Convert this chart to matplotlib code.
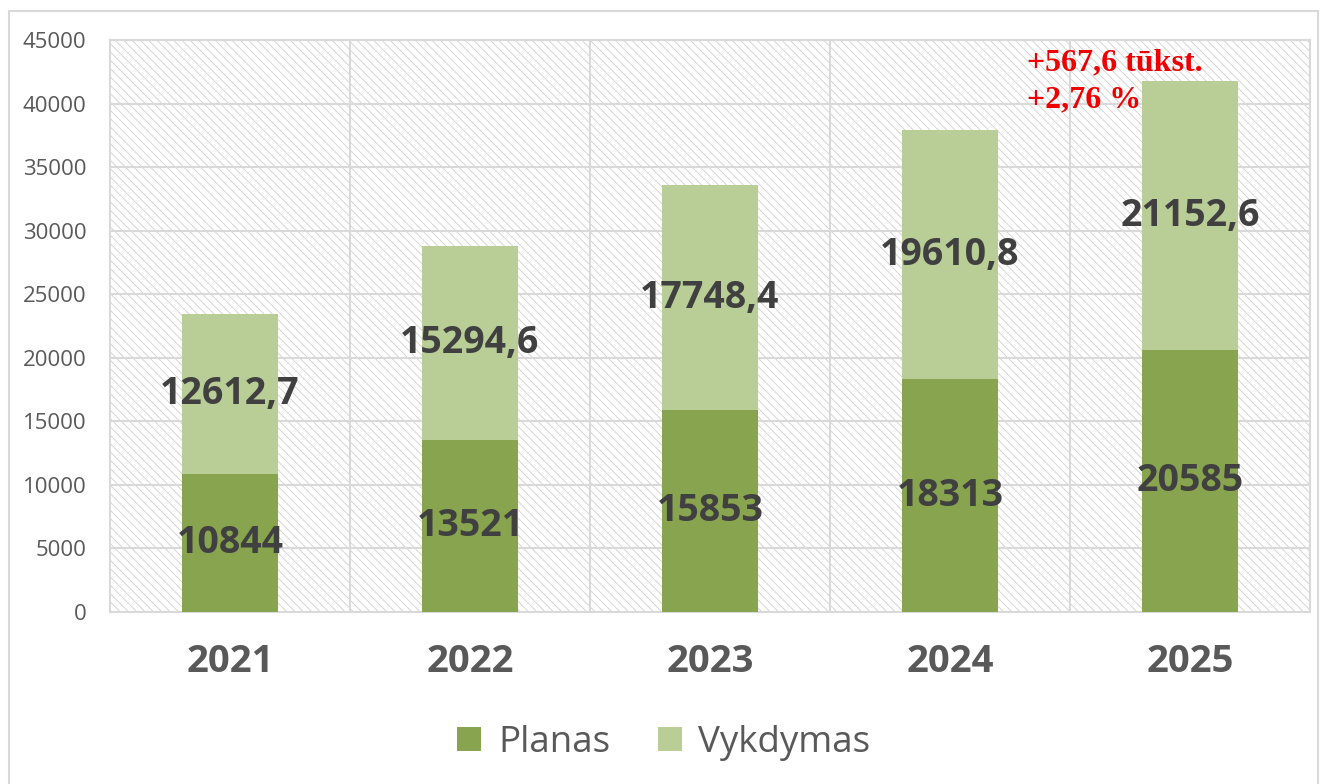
import matplotlib.pyplot as plt
from matplotlib.patches import Rectangle
import numpy as np

years = ["2021", "2022", "2023", "2024", "2025"]
planas = [10844, 13521, 15853, 18313, 20585]
vykdymas = [12612.7, 15294.6, 17748.4, 19610.8, 21152.6]
planas_labels = ["10844", "13521", "15853", "18313", "20585"]
vykdymas_labels = ["12612,7", "15294,6", "17748,4", "19610,8", "21152,6"]
note = "+567,6 tūkst.\n+2,76 %"

dark_green = "#88a44e"
light_green = "#b9cd96"
grid_col = "#d9d9d9"

plt.rcParams['font.family'] = ['Open Sans', 'DejaVu Sans']
plt.rcParams['hatch.linewidth'] = 0.6

fig = plt.figure(figsize=(13.28, 7.84), dpi=100)
# outer chart frame
fig.patches.append(Rectangle((9 / 1328, -0.01), 1309 / 1328, 1 - 11 / 784 + 0.01,
                             transform=fig.transFigure, fill=False,
                             edgecolor=grid_col, linewidth=1.5))

ax = fig.add_axes([110 / 1328, 1 - 612 / 784, 1200 / 1328, 572 / 784])
ax.patch.set_visible(False)
# hatched background of plot area
ax.add_patch(Rectangle((0, 0), 1, 1, transform=ax.transAxes, facecolor="white",
                       edgecolor="#cfcfcf", hatch="\\\\\\\\", linewidth=0, zorder=0))

x = np.arange(len(years))
w = 0.4
ax.bar(x, planas, w, color=dark_green, label="Planas", zorder=3)
ax.bar(x, vykdymas, w, bottom=planas, color=light_green, label="Vykdymas", zorder=3)

for i in range(len(years)):
    ax.text(x[i], planas[i] / 2, planas_labels[i], ha="center", va="center",
            fontsize=27, fontweight="bold", color="#404040", zorder=4)
    ax.text(x[i], planas[i] + vykdymas[i] / 2, vykdymas_labels[i], ha="center",
            va="center", fontsize=27, fontweight="bold", color="#404040", zorder=4)

ax.text(3.32, 41750, note, ha="left", va="center", fontsize=23, fontweight="bold",
        color="#ee0000", family=["Liberation Serif"], linespacing=1.4, zorder=5)

ax.set_xlim(-0.5, 4.5)
ax.set_ylim(0, 45000)
ax.set_yticks(np.arange(0, 45001, 5000))
ax.set_xticks(x)
ax.set_xticklabels(years, fontsize=27.5, fontweight="bold", color="#595959")
ax.set_xticks(np.arange(0.5, 4.5, 1), minor=True)
ax.tick_params(axis="y", labelsize=16, labelcolor="#595959", length=0, pad=17)
ax.tick_params(axis="x", which="both", length=0, pad=22)
ax.grid(axis="y", color=grid_col, linewidth=1.5, zorder=1)
ax.grid(axis="x", which="minor", color=grid_col, linewidth=1.5, zorder=1)
for s in ax.spines.values():
    s.set_color(grid_col)
    s.set_linewidth(1.5)

fig.legend(loc="center", bbox_to_anchor=(0.5, 1 - 743 / 784), ncol=2, frameon=False,
           fontsize=26.5, handlelength=0.65, handleheight=0.65, columnspacing=1.3,
           handletextpad=0.45, labelcolor="#595959")

fig.savefig("out.png", dpi=100)
